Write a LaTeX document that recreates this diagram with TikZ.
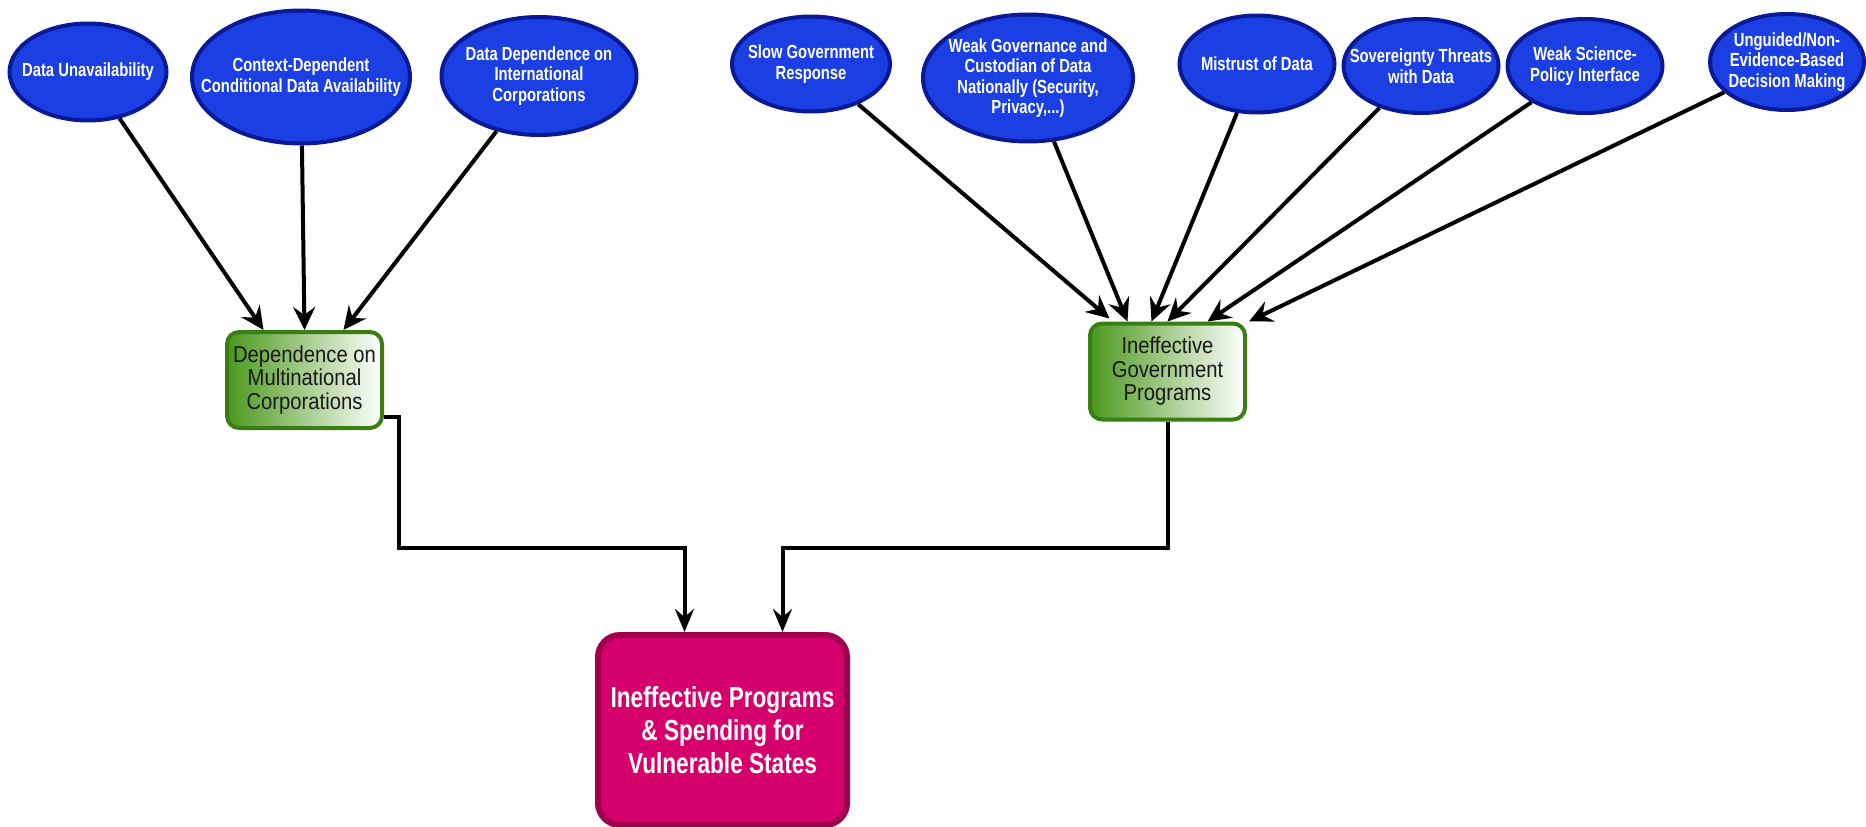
\documentclass[tikz,border=0pt]{standalone}
\usepackage{fontspec}
\setmainfont{Liberation Sans}
\newfontfamily\condf{Liberation Sans}[FakeStretch=0.78]
\newfontfamily\regf{Liberation Sans}[FakeStretch=0.88]
\usetikzlibrary{shapes.geometric,arrows.meta}
\definecolor{ellfill}{HTML}{1B3FE3}
\definecolor{elldraw}{HTML}{0A1A96}
\definecolor{gdark}{HTML}{4B981C}
\definecolor{gmid}{HTML}{7DBA55}
\definecolor{gdraw}{HTML}{3A7D14}
\definecolor{pfill}{HTML}{D6006C}
\definecolor{pdraw}{HTML}{A0004D}
\tikzset{
  cause/.style={ellipse, draw=elldraw, fill=ellfill, line width=4pt, inner sep=0pt},
  ctext/.style={inner sep=0pt, text=white, align=center, font=\condf\bfseries\fontsize{19}{20.5}\selectfont},
  midbox/.style={rectangle, rounded corners=12pt, draw=gdraw, line width=4pt,
    left color=gdark, middle color=gmid, right color=white, inner sep=0pt,
    minimum width=155pt, minimum height=96pt, text=black!90, align=center,
    font=\regf\fontsize{23}{23.5}\selectfont},
  outbox/.style={rectangle, rounded corners=22pt, draw=pdraw, fill=pfill, line width=6pt,
    minimum width=249pt, minimum height=190pt, inner sep=0pt, text=white, align=center,
    font=\condf\bfseries\fontsize{29}{33}\selectfont},
  arr/.style={draw=black, line width=4pt, -{Stealth[length=23pt,width=22pt,inset=8pt]}},
  conn/.style={draw=black, line width=4pt, -{Stealth[length=23pt,width=19pt,inset=8pt]}}
}
\begin{document}
\begin{tikzpicture}[x=1pt,y=-1pt]
\useasboundingbox (0,0) rectangle (1866,827);
% cause ellipses
\node[cause, minimum width=157pt, minimum height=97pt, label={[ctext]center:Data Unavailability}] (du) at (88,72) {};
\node[cause, minimum width=218pt, minimum height=133pt, label={[ctext]center:{Context-Dependent\\Conditional Data Availability}}] (cd) at (301,77) {};
\node[cause, minimum width=195pt, minimum height=118pt, label={[ctext]center:{Data Dependence on\\International\\Corporations}}] (dd) at (539,76) {};
\node[cause, minimum width=158pt, minimum height=95pt, label={[ctext]center:{Slow Government\\Response}}] (sg) at (811,64) {};
\node[cause, minimum width=210pt, minimum height=127pt, label={[ctext]center:{Weak Governance and\\Custodian of Data\\Nationally (Security,\\Privacy,...)}}] (wg) at (1028,78) {};
\node[cause, minimum width=155pt, minimum height=97pt, label={[ctext]center:Mistrust of Data}] (md) at (1257,64) {};
\node[cause, minimum width=155pt, minimum height=94pt, label={[ctext]center:{Sovereignty Threats\\with Data}}] (st) at (1421,66) {};
\node[cause, minimum width=155pt, minimum height=94pt, label={[ctext]center:{Weak Science-\\Policy Interface}}] (ws) at (1585,66) {};
\node[cause, minimum width=154pt, minimum height=96pt, label={[ctext]center:{Unguided/Non-\\Evidence-Based\\Decision Making}}] (un) at (1787,62) {};
% intermediate boxes
\node[midbox] (dmc) at (304.5,380) {Dependence on\\Multinational\\Corporations};
\node[midbox] (igp) at (1167.5,371.5) {Ineffective\\Government\\Programs};
% outcome
\node[outbox] (out) at (722.5,730) {Ineffective Programs\\\& Spending for\\Vulnerable States};
% junction coordinates
\coordinate (j1) at (399,548);
\coordinate (j2) at (1167.5,548);
% arrows to left box
\draw[arr] (du) -- ([xshift=-41pt]dmc.north);
\draw[arr] (cd) -- (dmc.north);
\draw[arr] (dd) -- ([xshift=39pt]dmc.north);
% arrows to right box
\draw[arr] (sg) -- ([xshift=-58pt,yshift=3pt]igp.north);
\draw[arr] (wg) -- ([xshift=-40pt]igp.north);
\draw[arr] (md) -- ([xshift=-16pt]igp.north);
\draw[arr] (st) -- (igp.north);
\draw[arr] (ws) -- ([xshift=40pt]igp.north);
\draw[arr] (un) -- ([xshift=2pt]igp.north east);
% to outcome
\draw[conn] ([yshift=-37pt]dmc.east) -| (j1) -| ([xshift=-38pt]out.north);
\draw[conn] (igp.south) -- (j2) -| ([xshift=60pt]out.north);
\end{tikzpicture}
\end{document}
